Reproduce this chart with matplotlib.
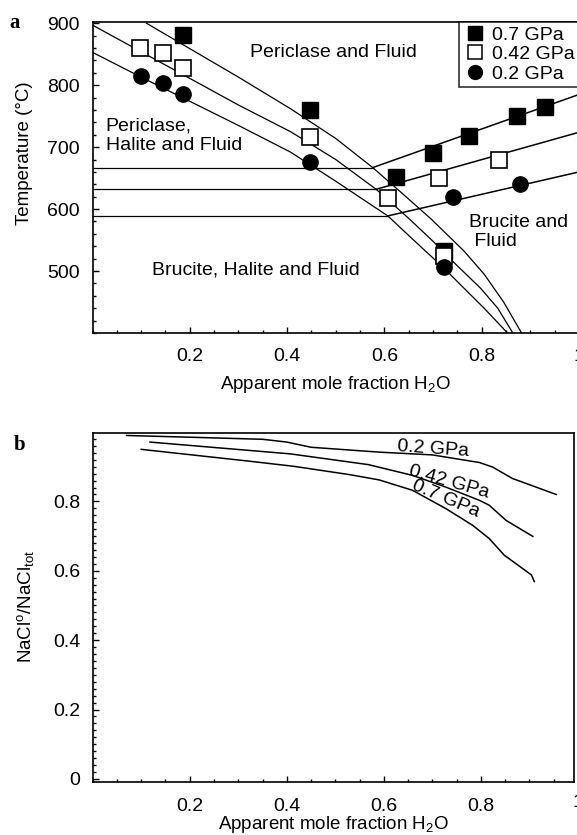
import matplotlib
matplotlib.use("Agg")
import matplotlib.pyplot as plt
from matplotlib.lines import Line2D
from matplotlib.ticker import MultipleLocator

plt.rcParams['font.family'] = ['Liberation Sans', 'DejaVu Sans']
plt.rcParams['mathtext.fontset'] = 'custom'
plt.rcParams['mathtext.rm'] = 'Liberation Sans'
plt.rcParams['mathtext.it'] = 'Liberation Sans:italic'

# --- panel a: experimental points ---
p07_x = [0.186, 0.448, 0.624, 0.700, 0.773, 0.872, 0.930, 0.723]
p07_T = [881, 760, 652, 690, 718, 750, 765, 532]
p042_x = [0.097, 0.145, 0.186, 0.448, 0.607, 0.713, 0.835, 0.723]
p042_T = [860, 852, 827, 716, 618, 650, 680, 524]
p02_x = [0.100, 0.145, 0.186, 0.448, 0.742, 0.878, 0.723]
p02_T = [815, 803, 785, 676, 619, 640, 506]

# --- panel a: halite saturation curves ---
c07_x = [0.111, 0.2, 0.3, 0.407, 0.5, 0.576, 0.64, 0.696, 0.764, 0.805, 0.845, 0.882]
c07_T = [900, 859, 813, 762, 714, 667, 623, 584, 532, 495, 450, 400]
c042_x = [0.0, 0.1, 0.2, 0.3, 0.407, 0.5, 0.583, 0.65, 0.70, 0.744, 0.798, 0.833, 0.864]
c042_T = [897, 854, 811, 768, 725, 680, 632, 585, 548, 513, 472, 440, 400]
c02_x = [0.0, 0.1, 0.2, 0.3, 0.407, 0.5, 0.607, 0.66, 0.722, 0.764, 0.805, 0.853]
c02_T = [853, 813, 774, 735, 692, 645, 589, 550, 505, 472, 440, 400]

# brucite = periclase + fluid: flat part, triple point, value at x = 1
brc_T = [667, 632, 589]
brc_x = [0.576, 0.583, 0.607]
brc_T_end = [785, 724, 660]

# --- panel b: NaCl speciation ---
b02_x = [0.07, 0.2, 0.35, 0.40, 0.45, 0.59, 0.70, 0.797, 0.824, 0.865, 0.955]
b02_y = [0.99, 0.985, 0.979, 0.971, 0.956, 0.942, 0.934, 0.912, 0.899, 0.866, 0.820]
b042_x = [0.118, 0.322, 0.407, 0.568, 0.659, 0.728, 0.797, 0.817, 0.852, 0.907]
b042_y = [0.971, 0.947, 0.937, 0.906, 0.875, 0.841, 0.803, 0.789, 0.745, 0.699]
b07_x = [0.100, 0.322, 0.415, 0.53, 0.59, 0.659, 0.728, 0.783, 0.817, 0.848, 0.904, 0.910]
b07_y = [0.950, 0.916, 0.901, 0.877, 0.862, 0.832, 0.779, 0.731, 0.693, 0.645, 0.588, 0.569]

W, H = 577, 835
fig = plt.figure(figsize=(W / 100, H / 100), dpi=100)

def px_axes(l, t, r, b):
	return fig.add_axes([l / W, 1 - b / H, (r - l) / W, (b - t) / H])

def style(ax, xpad):
	for s in ax.spines.values():
		s.set_linewidth(1.2)
	ax.tick_params(which='both', direction='in', labelsize=14, width=1)
	ax.tick_params(which='major', length=4)
	ax.tick_params(which='minor', length=2.5)
	ax.tick_params(axis='x', pad=xpad)
	ax.tick_params(axis='y', pad=9)

# ---------------- panel a ----------------
ax = px_axes(92.5, 22, 579, 333)
lw = 0.9
for cx, cT in [(c07_x, c07_T), (c042_x, c042_T), (c02_x, c02_T)]:
	ax.plot(cx, cT, color='black', lw=lw)
for T0, x0, T1 in zip(brc_T, brc_x, brc_T_end):
	ax.plot([0, x0], [T0, T0], color='black', lw=lw)
	ax.plot([x0, 1.0], [T0, T1], color='black', lw=lw + 0.2)

ms = 11
ax.plot(p07_x, p07_T, 's', color='black', ms=ms, zorder=3)
ax.plot(p042_x, p042_T, 's', mfc='white', mec='black', mew=1.2, ms=ms, zorder=4)
ax.plot(p02_x, p02_T, 'o', color='black', ms=ms, zorder=5)

ax.set_xlim(0, 1)
ax.set_ylim(400, 902)
ax.set_xticks([0.2, 0.4, 0.6, 0.8, 1.0])
ax.set_xticklabels(['0.2', '0.4', '0.6', '0.8', '1'])
ax.set_yticks([500, 600, 700, 800, 900])
ax.xaxis.set_minor_locator(MultipleLocator(0.05))
ax.yaxis.set_minor_locator(MultipleLocator(20))
style(ax, 11)

ax.set_ylabel('Temperature (°C)', fontsize=13.5)
ax.yaxis.set_label_coords(-0.139, 0.579)
ax.yaxis.label.set_va('center')
ax.set_xlabel('Apparent mole fraction H$_2$O', fontsize=13.5)
ax.xaxis.set_label_coords(0.5, -0.167)
ax.xaxis.label.set_va('center')

fs = 14
ax.text(0.495, 853, 'Periclase and Fluid', fontsize=fs, ha='center', va='center')
ax.text(0.027, 718, 'Periclase,\nHalite and Fluid', fontsize=fs, ha='left', va='center')
ax.text(0.122, 502, 'Brucite, Halite and Fluid', fontsize=fs, ha='left', va='center')
ax.text(0.773, 563, 'Brucite and\n Fluid', fontsize=fs, ha='left', va='center')

handles = [
	Line2D([], [], ls='none', marker='s', color='black', ms=10),
	Line2D([], [], ls='none', marker='s', mfc='white', mec='black', mew=1.1, ms=10),
	Line2D([], [], ls='none', marker='o', color='black', ms=10),
]
leg = ax.legend(handles, ['0.7 GPa', '0.42 GPa', '0.2 GPa'], loc='upper right',
	fontsize=14, frameon=True, fancybox=False, borderaxespad=0, borderpad=0.2,
	labelspacing=0.1, handlelength=1.2, handletextpad=0.3)
leg.get_frame().set_edgecolor('black')
leg.get_frame().set_linewidth(1.2)

fig.text(15 / W, 1 - 23 / H, 'a', fontsize=15, fontweight='bold',
	family='Liberation Serif', ha='center', va='center')

# ---------------- panel b ----------------
bx = px_axes(92.7, 432.7, 574.3, 781.7)
for cx, cy in [(b02_x, b02_y), (b042_x, b042_y), (b07_x, b07_y)]:
	bx.plot(cx, cy, color='black', lw=lw + 0.2)

bx.set_xlim(0, 0.9924)
bx.set_ylim(-0.008, 0.998)
bx.set_xticks([0.2, 0.4, 0.6, 0.8])
bx.set_xticklabels(['0.2', '0.4', '0.6', '0.8'])
bx.set_yticks([0, 0.2, 0.4, 0.6, 0.8])
bx.set_yticklabels(['0', '0.2', '0.4', '0.6', '0.8'])
bx.xaxis.set_minor_locator(MultipleLocator(0.05))
bx.yaxis.set_minor_locator(MultipleLocator(0.02))
style(bx, 12)
# the x = 1 label sits just past the right spine
bx.text(1.0, -21 / 349, '1', fontsize=14, ha='center', va='center',
	transform=bx.get_xaxis_transform(), clip_on=False)

bx.set_ylabel('NaCl$^{\\mathrm{o}}$/NaCl$_{\\mathrm{tot}}$', fontsize=13.5)
bx.yaxis.set_label_coords(-0.1385, 0.503)
bx.yaxis.label.set_va('center')
bx.set_xlabel('Apparent mole fraction H$_2$O', fontsize=13.5)
bx.xaxis.set_label_coords(0.5, -0.124)
bx.xaxis.label.set_va('center')

bx.text(0.702, 0.950, '0.2 GPa', fontsize=fs, rotation=-4, rotation_mode='anchor',
	ha='center', va='center')
bx.text(0.735, 0.856, '0.42 GPa', fontsize=fs, rotation=-16, rotation_mode='anchor',
	ha='center', va='center')
bx.text(0.728, 0.808, '0.7 GPa', fontsize=fs, rotation=-23, rotation_mode='anchor',
	ha='center', va='center')

fig.text(20 / W, 1 - 445 / H, 'b', fontsize=15, fontweight='bold',
	family='Liberation Serif', ha='center', va='center')

fig.savefig('out.png', dpi=100)
